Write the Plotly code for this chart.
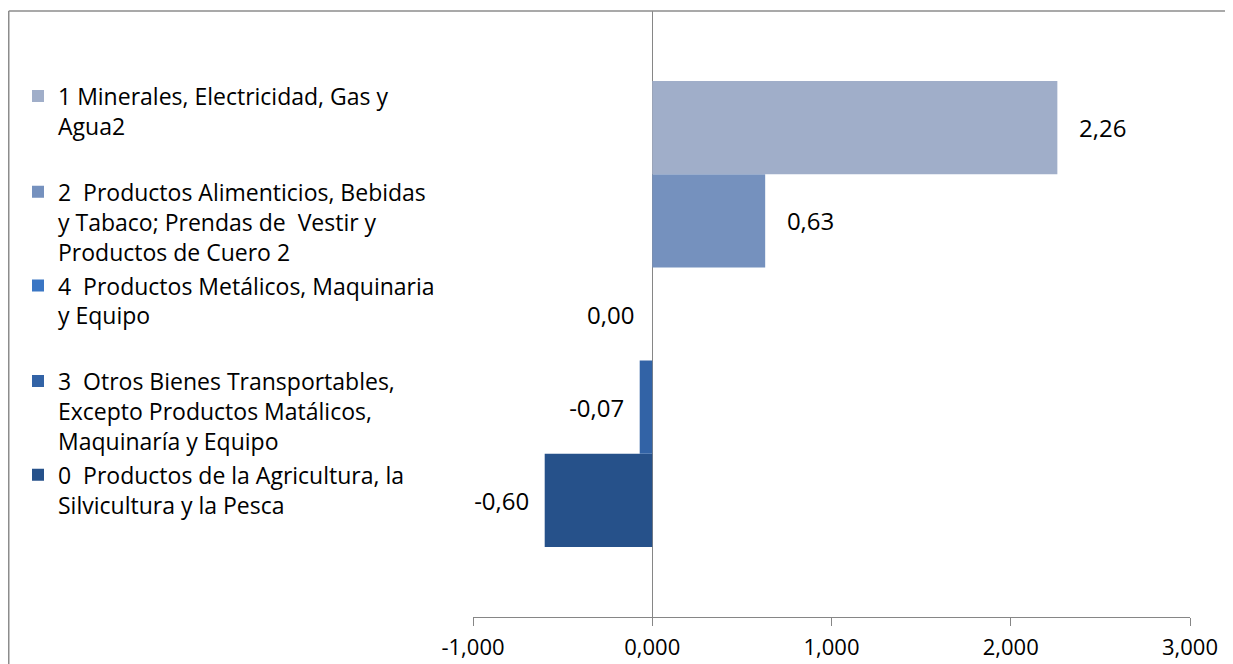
import plotly.graph_objects as go

# Data (bottom-to-top order in the chart)
series_names = [
    "0  Productos de la Agricultura, la<br>Silvicultura y la Pesca",
    "3  Otros Bienes Transportables,<br>Excepto Productos Matálicos,<br>Maquinaría y Equipo",
    "4  Productos Metálicos, Maquinaria<br>y Equipo",
    "2  Productos Alimenticios, Bebidas<br>y Tabaco; Prendas de  Vestir y<br>Productos de Cuero 2",
    "1 Minerales, Electricidad, Gas y<br>Agua2",
]
series_values = [-0.60, -0.07, 0.00, 0.63, 2.26]
category = ["Sectores"]
tick_vals = [-1, 0, 1, 2, 3]
tick_text = ["-1,000", "0,000", "1,000", "2,000", "3,000"]

colors = ["#26518a", "#3263a6", "#3a76c4", "#7591be", "#a0aec9"]
legend_ids = ["legend5", "legend4", "legend3", "legend2", "legend"]
legend_y = [0.210, 0.340, 0.522, 0.652, 0.835]

FONT = "Open Sans"
NB = "\u00a0"

W, H = 1225, 656
ML, MR, MT, MB = 465, 43, 3, 47
PW, PH = W - ML - MR, H - MT - MB


def fmt(v):
    return f"{v:.2f}".replace(".", ",")


fig = go.Figure()
annotations = []
for name, val, col, lid in zip(series_names, series_values, colors, legend_ids):
    if val > 0:
        lab = NB * 3 + fmt(val)
    elif val < 0:
        lab = fmt(val) + NB * 2
    else:
        lab = ""
        annotations.append(dict(x=val, y=category[0], xref="x", yref="y",
                                text=fmt(val), showarrow=False, xanchor="right",
                                xshift=-16, font=dict(family=FONT, size=24, color="#000000")))
    fig.add_trace(go.Bar(
        y=category, x=[val], name=name, orientation="h",
        marker=dict(color=col, line=dict(width=0)),
        text=[lab], textposition="outside", cliponaxis=False,
        textfont=dict(family=FONT, size=24, color="#000000"),
        legend=lid,
    ))

bx0 = (0.75 - ML) / PW
bx1 = (W + 10 - ML) / PW
by0 = -(MB + 5) / PH
by1 = 1.0
border = dict(color="#8c8c8c", width=1.5)

fig.update_layout(
    width=W, height=H,
    margin=dict(l=ML, r=MR, t=MT, b=MB, autoexpand=False),
    paper_bgcolor="white", plot_bgcolor="white",
    showlegend=True,
    barmode="group", bargap=0.231, bargroupgap=0,
    font=dict(family=FONT, size=23, color="#000000"),
    xaxis=dict(
        range=[-1, 3], tickvals=tick_vals, ticktext=tick_text,
        ticks="outside", ticklen=8, tickcolor="#868686", tickwidth=1,
        showline=True, linecolor="#868686", linewidth=1,
        showgrid=False, zeroline=True, zerolinecolor="#868686", zerolinewidth=1,
        tickfont=dict(family=FONT, size=22, color="#000000"),
        ticklabelstandoff=3, automargin=False,
    ),
    yaxis=dict(type="category", range=[-0.5, 0.5], showticklabels=False, showgrid=False,
               zeroline=False, showline=False, ticks="", automargin=False),
    annotations=annotations,
    shapes=[
        dict(type="line", xref="paper", yref="paper", x0=bx0, x1=bx0, y0=by0, y1=by1,
             line=border, layer="above"),
        dict(type="line", xref="paper", yref="paper", x0=bx0, x1=bx1, y0=by1, y1=by1,
             line=border, layer="above"),
    ],
)

for lid, ly in zip(legend_ids, legend_y):
    fig.update_layout({lid: dict(
        x=(10 - ML) / PW, xanchor="left", y=ly, yanchor="middle", valign="top",
        bgcolor="rgba(0,0,0,0)", borderwidth=0,
        font=dict(family=FONT, size=23, color="#000000"),
    )})

fig.write_html("out.html")
